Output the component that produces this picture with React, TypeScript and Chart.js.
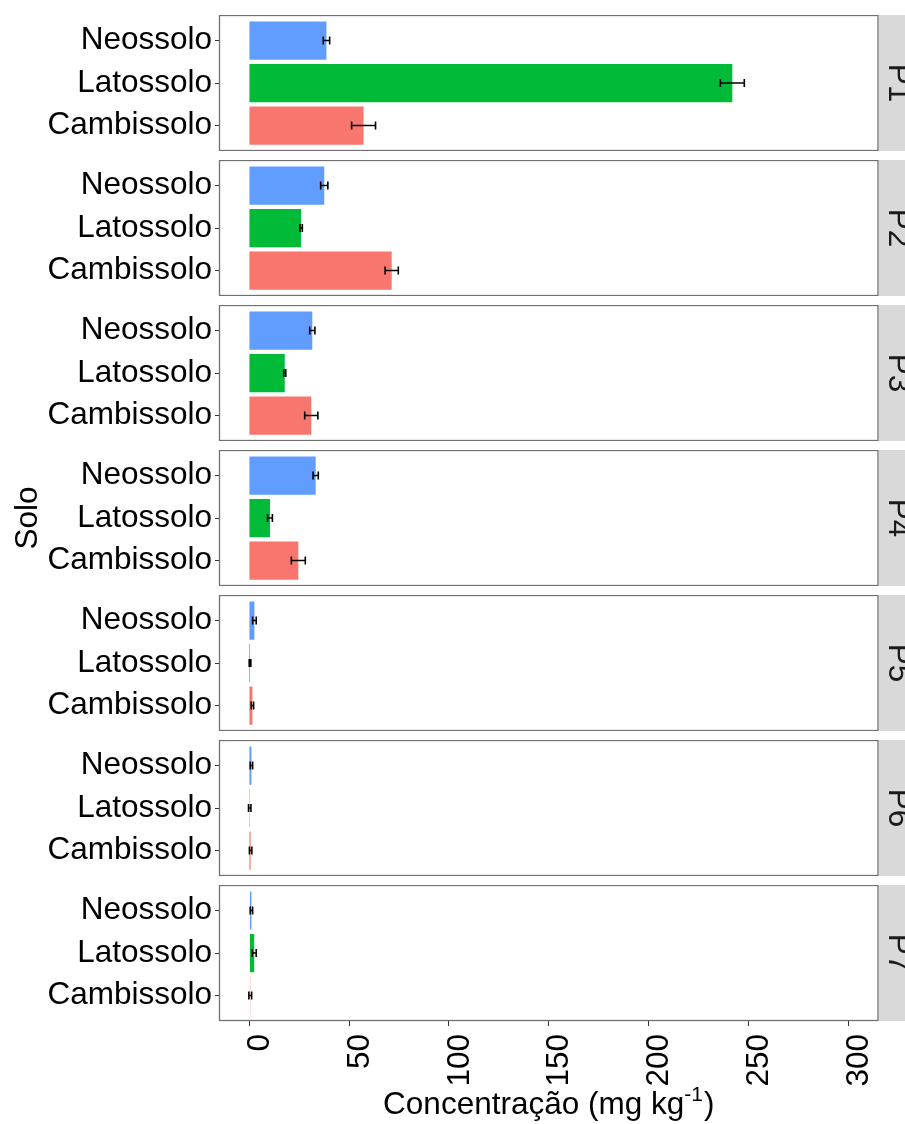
import React, { useEffect, useRef } from 'react';
import { Chart, registerables } from 'chart.js';

Chart.register(...registerables);

// ---------- data ----------
const panelNames = ['P1', 'P2', 'P3', 'P4', 'P5', 'P6', 'P7'];
const soils = ['Neossolo', 'Latossolo', 'Cambissolo'];
const soilColors = ['#619CFF', '#00BA38', '#F8766D'];

// mean concentration per soil (Neossolo, Latossolo, Cambissolo)
const p1Mean = [38.6, 242.0, 57.2];
const p2Mean = [37.5, 25.9, 71.3];
const p3Mean = [31.5, 17.7, 31.0];
const p4Mean = [33.2, 10.3, 24.5];
const p5Mean = [2.5, 0.3, 1.5];
const p6Mean = [1.0, 0.15, 0.6];
const p7Mean = [1.0, 2.4, 0.4];

// standard error per soil
const p1Err = [1.6, 6.0, 6.0];
const p2Err = [1.8, 0.6, 3.3];
const p3Err = [1.3, 0.5, 3.3];
const p4Err = [1.3, 1.2, 3.5];
const p5Err = [0.9, 0.4, 0.6];
const p6Err = [0.6, 0.6, 0.6];
const p7Err = [0.6, 1.0, 0.7];

const xTickValues = [0, 50, 100, 150, 200, 250, 300];
const xMin = -15;
const xMax = 315;

const xTitleMain = 'Concentração (mg kg';
const xTitleSup = '-1';
const xTitleEnd = ')';
const yTitle = 'Solo';

const means = [p1Mean, p2Mean, p3Mean, p4Mean, p5Mean, p6Mean, p7Mean];
const errs = [p1Err, p2Err, p3Err, p4Err, p5Err, p6Err, p7Err];

// ---------- layout ----------
const W = 905;
const H = 1124;
const FIRST_TOP = 15;
const STEP = 145;
const PANEL_H = 136;
const AXIS_W = 219.5;
const RIGHT_PAD = 27;
const FONT = '"Liberation Sans", Arial, sans-serif';
const FS = 31.5;

function Panel({ index }: { index: number }) {
  const ref = useRef<HTMLCanvasElement>(null);
  const isLast = index === panelNames.length - 1;
  const top = FIRST_TOP + index * STEP;
  const height = isLast ? H - top : PANEL_H;

  useEffect(() => {
    const canvas = ref.current;
    if (!canvas) return;
    const m = means[index];
    const e = errs[index];

    const panelPlugin = {
      id: 'panelDeco' + index,
      afterDatasetsDraw(chart: any) {
        const ctx = chart.ctx;
        const xs = chart.scales.x;
        const ys = chart.scales.y;
        const ca = chart.chartArea;
        ctx.save();
        // error bars
        ctx.strokeStyle = '#000';
        ctx.lineWidth = 1.6;
        const capHalf = Math.abs(ys.getPixelForValue(0.095) - ys.getPixelForValue(0));
        for (let j = 0; j < soils.length; j++) {
          const x1 = xs.getPixelForValue(m[j] - e[j]);
          const x2 = xs.getPixelForValue(m[j] + e[j]);
          const y = ys.getPixelForValue(j);
          ctx.beginPath();
          ctx.moveTo(x1, y);
          ctx.lineTo(x2, y);
          ctx.moveTo(x1, y - capHalf);
          ctx.lineTo(x1, y + capHalf);
          ctx.moveTo(x2, y - capHalf);
          ctx.lineTo(x2, y + capHalf);
          ctx.stroke();
        }
        // panel border
        ctx.strokeStyle = '#707070';
        ctx.lineWidth = 1.3;
        ctx.strokeRect(ca.left, ca.top + 0.5, ca.right - ca.left, ca.bottom - ca.top - 1);
        // strip
        ctx.fillStyle = '#D9D9D9';
        ctx.fillRect(ca.right + 1, ca.top, chart.width - ca.right - 1, ca.bottom - ca.top);
        ctx.fillStyle = '#1A1A1A';
        ctx.font = FS + 'px ' + FONT;
        ctx.textAlign = 'center';
        ctx.textBaseline = 'alphabetic';
        ctx.translate(ca.right + 10.5, (ca.top + ca.bottom) / 2);
        ctx.rotate(Math.PI / 2);
        ctx.fillText(panelNames[index], 0, 0);
        ctx.restore();

        ctx.save();
        ctx.fillStyle = '#000';
        ctx.font = FS + 'px ' + FONT;
        if (index === 3) {
          // y axis title, centered on the full panel stack
          const centerY = (FIRST_TOP + (FIRST_TOP + 6 * STEP + PANEL_H)) / 2 - top;
          ctx.translate(37, centerY);
          ctx.rotate(-Math.PI / 2);
          ctx.textAlign = 'center';
          ctx.textBaseline = 'alphabetic';
          ctx.fillText(yTitle, 0, 0);
        }
        if (isLast) {
          const wMain = ctx.measureText(xTitleMain).width;
          ctx.font = '21px ' + FONT;
          const wSup = ctx.measureText(xTitleSup).width;
          ctx.font = FS + 'px ' + FONT;
          const wEnd = ctx.measureText(xTitleEnd).width;
          const total = wMain + wSup + wEnd + 1;
          const cx = (ca.left + ca.right) / 2;
          let x = cx - total / 2;
          const base = 1114 - top;
          ctx.textAlign = 'left';
          ctx.textBaseline = 'alphabetic';
          ctx.fillText(xTitleMain, x, base);
          x += wMain;
          ctx.font = '21px ' + FONT;
          ctx.fillText(xTitleSup, x, base - 13);
          x += wSup + 1;
          ctx.font = FS + 'px ' + FONT;
          ctx.fillText(xTitleEnd, x, base);
        }
        ctx.restore();
      },
    };

    const chart = new Chart(canvas, {
      type: 'bar',
      data: {
        datasets: [
          {
            data: soils.map((s, j) => ({ x: m[j], y: j })),
            backgroundColor: soilColors,
            borderWidth: 0,
            barPercentage: 0.9,
            categoryPercentage: 1,
          },
        ],
      },
      options: {
        indexAxis: 'y',
        animation: false,
        responsive: false,
        maintainAspectRatio: false,
        events: [],
        layout: { padding: { left: 0, right: RIGHT_PAD, top: 0, bottom: 0 } },
        plugins: { legend: { display: false }, tooltip: { enabled: false }, title: { display: false } },
        scales: {
          x: {
            type: 'linear',
            min: xMin,
            max: xMax,
            display: isLast,
            offset: false,
            afterBuildTicks: (s: any) => {
              s.ticks = xTickValues.map((v) => ({ value: v }));
            },
            afterFit: (s: any) => {
              s.height = isLast ? 103 : 0;
              s.paddingLeft = 0;
              s.paddingRight = 0;
            },
            ticks: {
              autoSkip: false,
              maxRotation: 90,
              minRotation: 90,
              padding: 8,
              labelOffset: 11,
              color: '#000',
              font: { size: FS, family: FONT },
              callback: (v: any) => String(v),
            },
            grid: { display: true, drawOnChartArea: false, drawTicks: true, tickLength: 5, color: '#333', offset: false },
            border: { display: false },
          },
          y: {
            type: 'linear',
            min: -0.6,
            max: 2.6,
            reverse: true,
            offset: false,
            afterBuildTicks: (s: any) => {
              s.ticks = soils.map((_, j) => ({ value: j }));
            },
            afterFit: (s: any) => {
              s.width = AXIS_W;
              s.paddingTop = 0;
              s.paddingBottom = 0;
            },
            ticks: {
              autoSkip: false,
              padding: 3,
              color: '#000',
              font: { size: FS, family: FONT },
              callback: (v: any) => soils[v] ?? '',
            },
            grid: { display: true, drawOnChartArea: false, drawTicks: true, tickLength: 4.5, color: '#333', offset: false },
            border: { display: false },
          },
        },
      } as any,
      plugins: [panelPlugin],
    });
    return () => chart.destroy();
  }, [index]);

  return (
    <canvas
      ref={ref}
      width={W}
      height={height}
      style={{ position: 'absolute', left: 0, top, width: W, height, display: 'block' }}
    />
  );
}

export default function App() {
  return (
    <div style={{ position: 'absolute', left: 0, top: 0, width: W, height: H, background: '#fff', overflow: 'hidden' }}>
      {panelNames.map((p, i) => (
        <Panel key={p} index={i} />
      ))}
    </div>
  );
}
